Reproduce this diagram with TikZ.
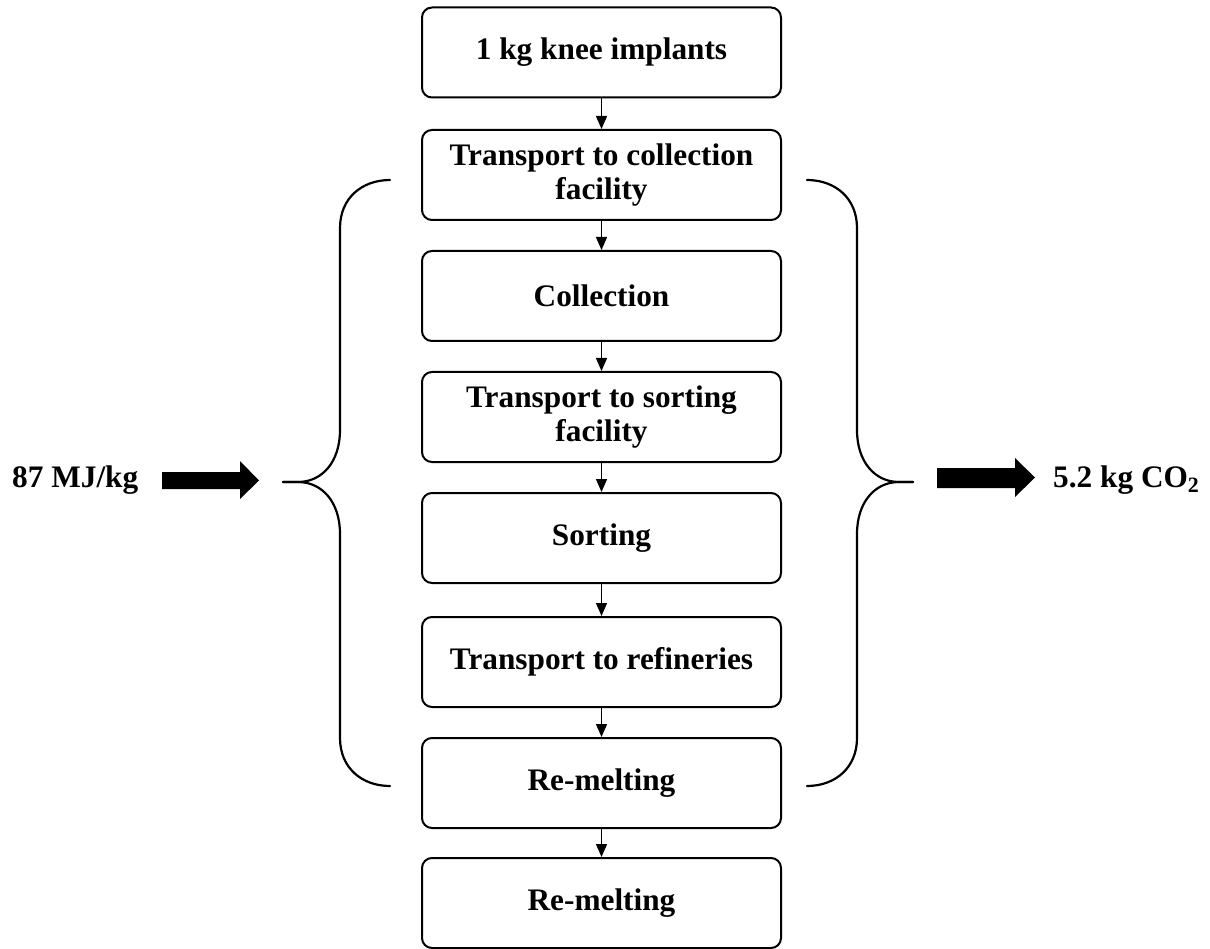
\documentclass[tikz,border=0pt]{standalone}
\usepackage{fontspec}
\setmainfont{Liberation Serif}
\usetikzlibrary{arrows.meta}
\begin{document}
\begin{tikzpicture}[x=1pt,y=-1pt,
  stage/.style={draw=black,line width=2pt,rounded corners=10pt,
    minimum width=359pt,minimum height=90pt,inner sep=0pt,align=center,
    font=\fontsize{31.3}{34}\selectfont\bfseries},
  flow/.style={draw=black,line width=1.4pt,-{Triangle[length=13pt,width=11pt]}},
  brace/.style={draw=black,line width=2.2pt,line cap=round},
  bigarrow/.style={fill=black},
  label/.style={anchor=base west,inner sep=0pt,font=\fontsize{31.3}{34}\selectfont\bfseries}]
\useasboundingbox (0,0) rectangle (1210,949);

% process chain
\node[stage] (b1) at (601.5,52.5) {1 kg knee implants};
\node[stage] (b2) at (601.5,175) {Transport to collection\\facility};
\node[stage] (b3) at (601.5,296) {Collection};
\node[stage] (b4) at (601.5,417) {Transport to sorting\\facility};
\node[stage] (b5) at (601.5,538) {Sorting};
\node[stage] (b6) at (601.5,662) {Transport to refineries};
\node[stage] (b7) at (601.5,783) {Re-melting};
\node[stage] (b8) at (601.5,903) {Re-melting};

\foreach \a/\b in {b1/b2,b2/b3,b3/b4,b4/b5,b5/b6,b6/b7,b7/b8}
  \draw[flow] (\a.south) -- (\b.north);

% braces grouping the stages
\draw[brace] (390,180) .. controls (362,180) and (340,198) .. (340,228)
  -- (340,430) .. controls (340,462) and (322,482) .. (298,482) -- (283,482);
\draw[brace] (283,482) -- (298,482) .. controls (322,482) and (340,502) .. (340,534)
  -- (340,738) .. controls (340,768) and (362,786) .. (390,786);
\draw[brace] (807,180) .. controls (835,180) and (857,198) .. (857,228)
  -- (857,430) .. controls (857,462) and (875,482) .. (899,482) -- (913,482);
\draw[brace] (913,482) -- (899,482) .. controls (875,482) and (857,502) .. (857,534)
  -- (857,738) .. controls (857,768) and (835,786) .. (807,786);

% energy input and emission output
\node[label] (energy) at (12,487) {87 MJ/kg};
\node[label] (co2) at (1053,487) {5.2 kg CO\textsubscript{2}};

\fill[bigarrow] (162,472) -- (240,472) -- (240,461) -- (259,480.5) -- (240,499)
  -- (240,489) -- (162,489) -- cycle;
\fill[bigarrow] (937,468) -- (1015,468) -- (1015,458) -- (1035,477.5) -- (1015,497)
  -- (1015,488) -- (937,488) -- cycle;
\end{tikzpicture}
\end{document}
